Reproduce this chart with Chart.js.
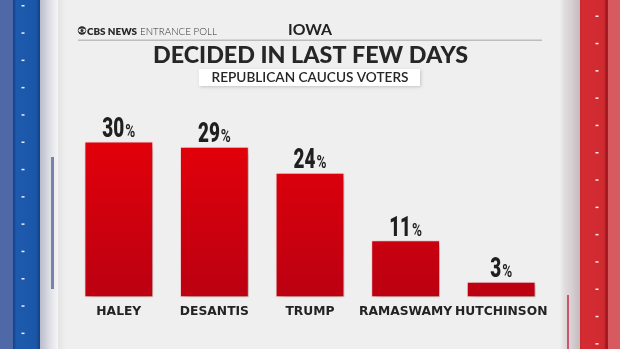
<!DOCTYPE html>
<html>
<head>
<meta charset="utf-8">
<script src="https://cdn.jsdelivr.net/npm/chart.js@4.4.1/dist/chart.umd.min.js"></script>
<style>
  html, body { margin: 0; padding: 0; background: #efefef; }
  canvas { display: block; }
</style>
</head>
<body>
<canvas id="chart" width="620" height="349"></canvas>
<script>
// Iowa entrance poll: voters who decided in the last few days
const candidates = ['HALEY', 'DESANTIS', 'TRUMP', 'RAMASWAMY', 'HUTCHINSON'];
const shares = [30, 29, 24, 11, 3];

const brand = 'CBS NEWS';
const kicker = 'ENTRANCE POLL';
const state = 'IOWA';
const headline = 'DECIDED IN LAST FEW DAYS';
const group = 'REPUBLICAN CAUCUS VOTERS';

// text squeezed/stretched to a given width
function fitText(ctx, text, x, y, width, font, color, align) {
  ctx.save();
  ctx.font = font;
  ctx.fillStyle = color;
  ctx.textBaseline = 'alphabetic';
  ctx.textAlign = 'left';
  const w = ctx.measureText(text).width;
  const s = width / w;
  let left = x;
  if (align === 'center') left = x - width / 2;
  ctx.translate(left, y);
  ctx.scale(s, 1);
  ctx.fillText(text, 0, 0);
  ctx.restore();
}

function drawTicks(ctx, x, y0, step, h) {
  ctx.fillStyle = 'rgba(255,255,255,0.9)';
  for (let y = y0; y < h; y += step) {
    ctx.fillRect(x, y, 3, 1.5);
  }
}

// side rails and header
const frame = {
  id: 'frame',
  beforeDraw(chart) {
    const ctx = chart.ctx;
    const W = chart.width, H = chart.height;
    ctx.save();
    ctx.fillStyle = '#efefef';
    ctx.fillRect(0, 0, W, H);

    // left rail
    ctx.fillStyle = '#4f69a6';
    ctx.fillRect(0, 0, 13, H);
    let g = ctx.createLinearGradient(13, 0, 40, 0);
    g.addColorStop(0, '#143f85');
    g.addColorStop(0.12, '#1d5aae');
    g.addColorStop(0.85, '#1b57a8');
    g.addColorStop(1, '#153f82');
    ctx.fillStyle = g;
    ctx.fillRect(13, 0, 27, H);
    drawTicks(ctx, 21.5, 5, 27.3, H);
    g = ctx.createLinearGradient(40, 0, 58, 0);
    g.addColorStop(0, '#b9bccb');
    g.addColorStop(0.5, '#dcdce4');
    g.addColorStop(1, '#f6f6f8');
    ctx.fillStyle = g;
    ctx.fillRect(40, 0, 18, H);
    ctx.fillStyle = '#7683ab';
    ctx.fillRect(51, 157, 3, 132);
    g = ctx.createLinearGradient(58, 0, 66, 0);
    g.addColorStop(0, 'rgba(0,0,0,0.05)');
    g.addColorStop(1, 'rgba(0,0,0,0)');
    ctx.fillStyle = g;
    ctx.fillRect(58, 0, 8, H);

    // right rail
    g = ctx.createLinearGradient(560, 0, 580, 0);
    g.addColorStop(0, 'rgba(200,190,195,0)');
    g.addColorStop(0.5, '#dbd3d6');
    g.addColorStop(1, '#c4b9bd');
    ctx.fillStyle = g;
    ctx.fillRect(560, 0, 20, H);
    ctx.fillStyle = '#c9566a';
    ctx.fillRect(567, 295, 2, H - 295);
    g = ctx.createLinearGradient(580, 0, 608, 0);
    g.addColorStop(0, '#c92830');
    g.addColorStop(0.1, '#d52c33');
    g.addColorStop(0.85, '#d02a31');
    g.addColorStop(0.95, '#a0141c');
    g.addColorStop(1, '#b01c24');
    ctx.fillStyle = g;
    ctx.fillRect(580, 0, 28, H);
    ctx.fillStyle = '#d75a61';
    ctx.fillRect(608, 0, 12, H);
    drawTicks(ctx, 595.5, 15.5, 27.3, H);

    // header
    ctx.fillStyle = '#2a2a2a';
    ctx.beginPath();
    ctx.arc(82, 30.5, 4.2, 0, Math.PI * 2);
    ctx.fill();
    ctx.fillStyle = '#efefef';
    ctx.beginPath();
    ctx.ellipse(82, 30.5, 3.6, 1.9, 0, 0, Math.PI * 2);
    ctx.fill();
    ctx.fillStyle = '#2a2a2a';
    ctx.beginPath();
    ctx.arc(82, 30.5, 1.5, 0, Math.PI * 2);
    ctx.fill();
    fitText(ctx, brand, 87, 34.5, 50, '800 10px Lato', '#2a2a2a');
    fitText(ctx, kicker, 140, 34.5, 77, '300 10px Lato', '#333333');
    fitText(ctx, state, 310, 34.5, 44, '700 15px Lato', '#222222', 'center');

    ctx.fillStyle = '#bdbdbd';
    ctx.fillRect(78, 39.5, 464, 1.5);

    fitText(ctx, headline, 310.5, 63, 315, '900 22px Lato', '#262626', 'center');

    ctx.shadowColor = 'rgba(0,0,0,0.18)';
    ctx.shadowBlur = 3;
    ctx.shadowOffsetX = 1;
    ctx.shadowOffsetY = 1;
    ctx.fillStyle = '#ffffff';
    ctx.fillRect(199, 69, 221, 17);
    ctx.shadowColor = 'transparent';
    fitText(ctx, group, 310, 82, 197, '600 12.5px Lato', '#262626', 'center');
    ctx.restore();
  }
};

// soft drop shadow behind the bars
const barShadow = {
  id: 'barShadow',
  beforeDatasetsDraw(chart) {
    const ctx = chart.ctx;
    ctx.save();
    ctx.shadowColor = 'rgba(0,0,0,0.28)';
    ctx.shadowBlur = 7;
    ctx.shadowOffsetX = 3;
    ctx.shadowOffsetY = 3;
  },
  afterDatasetsDraw(chart) {
    chart.ctx.restore();
  }
};

// "30%" style labels above each bar
const valueLabels = {
  id: 'valueLabels',
  afterDatasetsDraw(chart) {
    const ctx = chart.ctx;
    const meta = chart.getDatasetMeta(0);
    const numFont = '900 27px Roboto';
    const pctFont = '700 18px Roboto';
    const sqNum = 0.7, sqPct = 0.75;
    ctx.save();
    ctx.fillStyle = '#1f1f1f';
    ctx.textBaseline = 'alphabetic';
    ctx.textAlign = 'left';
    meta.data.forEach((bar, i) => {
      const num = String(shares[i]);
      ctx.font = numFont;
      const wNum = ctx.measureText(num).width * sqNum;
      ctx.font = pctFont;
      const wPct = ctx.measureText('%').width * sqPct;
      const left = bar.x - (wNum + wPct + 1) / 2;
      const base = bar.y - 4.5;
      ctx.save();
      ctx.translate(left, base);
      ctx.scale(sqNum, 1);
      ctx.font = numFont;
      ctx.fillText(num, 0, 0);
      ctx.restore();
      ctx.save();
      ctx.translate(left + wNum + 1, base);
      ctx.scale(sqPct, 1);
      ctx.font = pctFont;
      ctx.fillText('%', 0, 0);
      ctx.restore();
    });
    ctx.restore();
  }
};

function barFill(context) {
  const area = context.chart.chartArea;
  if (!area) return '#d20010';
  const g = context.chart.ctx.createLinearGradient(0, area.top, 0, area.bottom);
  g.addColorStop(0, '#e2000a');
  g.addColorStop(1, '#bb0012');
  return g;
}

new Chart(document.getElementById('chart'), {
  type: 'bar',
  data: {
    labels: candidates,
    datasets: [{
      data: shares,
      backgroundColor: barFill,
      borderColor: 'rgba(255,210,210,0.7)',
      borderWidth: 1,
      borderSkipped: false,
      barPercentage: 0.72,
      categoryPercentage: 1,
      clip: false
    }]
  },
  options: {
    responsive: false,
    animation: false,
    layout: {
      // axis height = label line + 2 x tick padding
      padding: { left: 71, right: 71, top: 141.5, bottom: 23 }
    },
    plugins: {
      legend: { display: false },
      tooltip: { enabled: false },
      title: { display: false }
    },
    scales: {
      x: {
        grid: { display: false, drawTicks: false },
        border: { display: false },
        ticks: {
          color: '#232323',
          font: { family: 'DejaVu Sans', weight: 'bold', size: 12.3 },
          padding: 7,
          autoSkip: false,
          maxRotation: 0,
          minRotation: 0
        }
      },
      y: {
        display: false,
        min: 0,
        max: 30
      }
    }
  },
  plugins: [frame, barShadow, valueLabels]
});
</script>
</body>
</html>
